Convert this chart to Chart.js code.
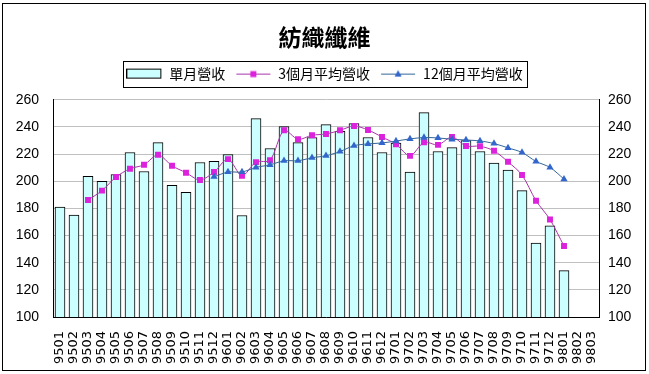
<!DOCTYPE html>
<html>
<head>
<meta charset="utf-8">
<script src="https://cdn.jsdelivr.net/npm/chart.js@4"></script>
<style>
  html, body { margin: 0; padding: 0; background: #fff; }
  #wrap { width: 649px; height: 374px; position: relative; }
</style>
</head>
<body>
<div id="wrap"><canvas id="c" width="649" height="374"></canvas></div>
<script>
// categories (year+month, ROC calendar)
const months = [
  '9501','9502','9503','9504','9505','9506','9507','9508','9509','9510','9511','9512',
  '9601','9602','9603','9604','9605','9606','9607','9608','9609','9610','9611','9612',
  '9701','9702','9703','9704','9705','9706','9707','9708','9709','9710','9711','9712',
  '9801','9802','9803'
];
// 單月營收
const monthly = [
  181, 175, 203.6, 200, 205, 221.2, 207.2, 228.5, 197, 191.9, 213.8, 214.6,
  219.7, 174.8, 246.1, 224.1, 240.2, 228.5, 232.2, 241.7, 236.8, 242.4, 232.2, 221.2,
  228.2, 206.8, 250.5, 221.9, 224.8, 230, 221.9, 213.3, 208.2, 193.1, 154.5, 167.2,
  134.2, null, null
];
// 3個月平均營收
const avg3 = [
  null, null, 186.2, 193.1, 203.1, 209.2, 212.1, 219.5, 211.4, 206.3, 200.9, 206.8,
  216.3, 204.1, 214.1, 215.5, 237.5, 230.9, 233.9, 234.8, 237.5, 240.7, 237.8, 232.6,
  227.3, 218.7, 228.7, 226.8, 232.6, 226.0, 225.8, 222.4, 214.3, 204.6, 185.7, 171.8,
  152.3, null, null
];
// 12個月平均營收
const avg12 = [
  null, null, null, null, null, null, null, null, null, null, null, 203.3,
  206.8, 206.8, 210.2, 212.1, 215.1, 215.1, 217.3, 218.8, 221.9, 226.2, 227.5, 228.2,
  229.6, 231.2, 232.2, 231.9, 230.9, 230.4, 229.7, 227.8, 224.6, 221.2, 214.6, 210.2,
  201.6, null, null
];
const yTicks = [100, 120, 140, 160, 180, 200, 220, 240, 260];

const seriesNames = ['單月營收', '3個月平均營收', '12個月平均營收'];
const barFill = '#CCFFFF';
const pinkCol = '#DD22DD';
const pinkLine = '#AA33AA';
const blueCol = '#3366CC';
const blueLine = '#336699';

// little legend pictures: box for bars, line + marker for the lines
function swatch(kind) {
  const c = document.createElement('canvas');
  c.width = 36; c.height = 12;
  const g = c.getContext('2d');
  if (kind === 'bar') {
    g.fillStyle = barFill;
    g.fillRect(0.5, 1.5, 34, 9);
    g.strokeStyle = '#000';
    g.lineWidth = 1;
    g.strokeRect(0.5, 1.5, 34, 9);
  } else {
    const col = kind === 'pink' ? pinkLine : blueLine;
    g.strokeStyle = col;
    g.lineWidth = 1;
    g.beginPath(); g.moveTo(1, 6.5); g.lineTo(35, 6.5); g.stroke();
    if (kind === 'pink') {
      g.fillStyle = pinkCol;
      g.fillRect(15, 3.5, 6, 6);
    } else {
      g.fillStyle = blueCol;
      g.beginPath(); g.moveTo(18, 2.5); g.lineTo(21.5, 9); g.lineTo(14.5, 9); g.closePath(); g.fill();
    }
  }
  return c;
}
const swatches = [swatch('bar'), swatch('pink'), swatch('blue')];

const frame = {
  id: 'frame',
  beforeDraw(chart) {
    const g = chart.ctx;
    g.save();
    g.fillStyle = '#fff';
    g.fillRect(0, 0, chart.width, chart.height);
    g.restore();
  },
  afterDraw(chart) {
    const g = chart.ctx;
    g.save();
    g.strokeStyle = '#000';
    g.lineWidth = 1;
    g.strokeRect(2.5, 3.5, 643, 367);
    // border round the legend
    const hb = chart.legend.legendHitBoxes;
    if (hb && hb.length) {
      const l = Math.min(...hb.map(b => b.left)) - 3;
      const r = Math.max(...hb.map(b => b.left + b.width)) + 5;
      const t = Math.min(...hb.map(b => b.top)) - 6;
      const bt = Math.max(...hb.map(b => b.top + b.height)) + 6;
      g.strokeRect(Math.round(l) + 0.5, Math.round(t) + 0.5, Math.round(r - l), Math.round(bt - t));
    }
    g.restore();
  }
};

new Chart(document.getElementById('c'), {
  type: 'bar',
  data: {
    labels: months,
    datasets: [{
      label: seriesNames[0],
      data: monthly,
      backgroundColor: barFill,
      borderColor: '#000',
      borderWidth: 1,
      barThickness: 10,
      yAxisID: 'y',
      order: 2
    }, {
      label: seriesNames[1],
      type: 'line',
      data: avg3,
      borderColor: pinkLine,
      backgroundColor: pinkCol,
      borderWidth: 1,
      pointStyle: 'rect',
      pointRadius: 4.2,
      pointBorderWidth: 0,
      tension: 0.3,
      yAxisID: 'y',
      order: 1
    }, {
      label: seriesNames[2],
      type: 'line',
      data: avg12,
      borderColor: blueLine,
      backgroundColor: blueCol,
      borderWidth: 1,
      pointStyle: 'triangle',
      pointRadius: 4.2,
      pointBorderWidth: 0,
      tension: 0.3,
      yAxisID: 'y',
      order: 0
    }]
  },
  options: {
    responsive: false,
    animation: false,
    devicePixelRatio: 1,
    layout: { padding: { left: 4, right: 4, top: 10, bottom: 0 } },
    plugins: {
      title: {
        display: true,
        text: '紡織纖維',
        color: '#000',
        font: { family: '"Noto Sans CJK TC", sans-serif', size: 23, weight: 'bold' },
        padding: { top: 13, bottom: 6 }
      },
      // empty spacer between the legend and the plot
      subtitle: {
        display: true,
        text: ' ',
        weight: 500,
        font: { size: 1 },
        padding: { top: 0, bottom: 8 }
      },
      legend: {
        display: true,
        position: 'top',
        labels: {
          color: '#000',
          font: { family: '"Noto Sans CJK TC", sans-serif', size: 14 },
          usePointStyle: true,
          pointStyleWidth: 36,
          padding: 10,
          generateLabels: (chart) => seriesNames.map((name, i) => ({
            text: name,
            datasetIndex: i,
            pointStyle: swatches[i],
            fillStyle: 'transparent',
            strokeStyle: 'transparent',
            lineWidth: 0,
            fontColor: '#000',
            hidden: false
          }))
        }
      },
      tooltip: { enabled: false }
    },
    scales: {
      x: {
        grid: { display: false },
        border: { display: true, color: '#000' },
        ticks: {
          color: '#000',
          autoSkip: false,
          minRotation: 90,
          maxRotation: 90,
          padding: 6,
          font: { family: '"DejaVu Sans", sans-serif', size: 13 }
        },
        afterFit: (s) => { s.height = 57; }
      },
      y: {
        position: 'left',
        min: 100,
        max: 260,
        afterBuildTicks: (s) => { s.ticks = yTicks.map(v => ({ value: v })); },
        grid: { color: '#C0C0C0', drawTicks: false },
        border: { display: true, color: '#000' },
        ticks: {
          color: '#000',
          padding: 14,
          font: { family: '"Liberation Sans", Arial, sans-serif', size: 14 }
        },
        afterFit: (s) => { s.width = 49; }
      },
      y2: {
        position: 'right',
        min: 100,
        max: 260,
        afterBuildTicks: (s) => { s.ticks = yTicks.map(v => ({ value: v })); },
        grid: { drawOnChartArea: false, drawTicks: false },
        border: { display: true, color: '#000' },
        ticks: {
          color: '#000',
          padding: 9,
          font: { family: '"Liberation Sans", Arial, sans-serif', size: 14 }
        },
        afterFit: (s) => { s.width = 46; }
      }
    }
  },
  plugins: [frame]
});
</script>
</body>
</html>
